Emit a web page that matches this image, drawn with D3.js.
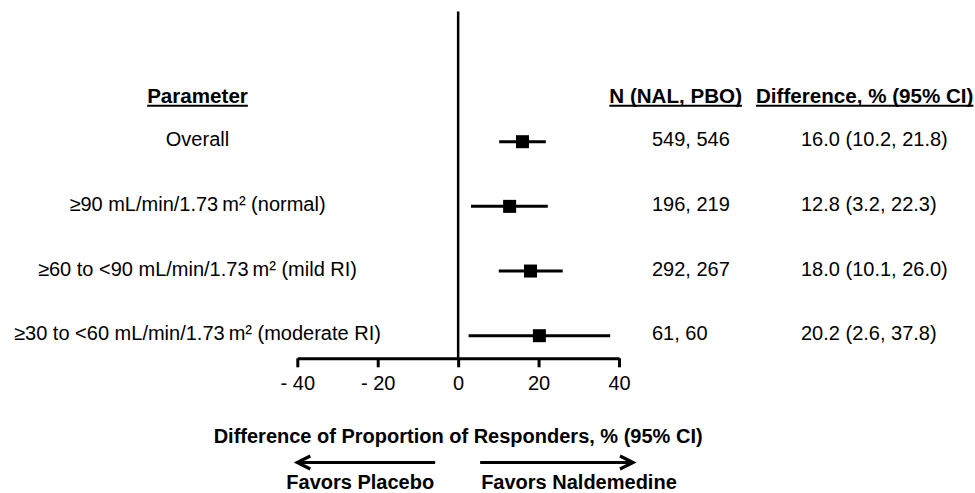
<!DOCTYPE html>
<html>
<head>
<meta charset="utf-8">
<script src="https://cdn.jsdelivr.net/npm/d3@7"></script>
<style>
  html, body { margin: 0; padding: 0; background: #fff; }
  svg { display: block; font-family: "Liberation Sans", Arial, Helvetica, sans-serif; }
</style>
</head>
<body>
<svg id="chart" width="975" height="493"></svg>
<script>
const categories = [
  "Overall",
  "\u226590 mL/min/1.73\u2009m\u00b2 (normal)",
  "\u226560 to <90 mL/min/1.73\u2009m\u00b2 (mild RI)",
  "\u226530 to <60 mL/min/1.73\u2009m\u00b2 (moderate RI)"
];
const estimates = [16.0, 12.8, 18.0, 20.2];
const lowerCI = [10.2, 3.2, 10.1, 2.6];
const upperCI = [21.8, 22.3, 26.0, 37.8];
const nLabels = ["549, 546", "196, 219", "292, 267", "61, 60"];
const tickValues = [-40, -20, 0, 20, 40];
const tickLabels = ["- 40", "- 20", "0", "20", "40"];
const headers = ["Parameter", "N (NAL, PBO)", "Difference, % (95% CI)"];
const axisTitle = "Difference of Proportion of Responders, % (95% CI)";
const favorLabels = ["Favors Placebo", "Favors Naldemedine"];

const svg = d3.select("#chart");
const rows = categories.map((c, i) => ({
  cat: c, est: estimates[i], lo: lowerCI[i], hi: upperCI[i], n: nLabels[i],
  diff: `${estimates[i].toFixed(1)} (${lowerCI[i].toFixed(1)}, ${upperCI[i].toFixed(1)})`
}));

const x = d3.scaleLinear().domain([-40, 40]).range([297.3, 619]);
const y = d3.scalePoint().domain(categories).range([141.7, 335.7]);
const axisY = 358.3;

// zero reference line
svg.append("line")
  .attr("x1", x(0)).attr("x2", x(0))
  .attr("y1", 11.5).attr("y2", axisY)
  .attr("stroke", "#000").attr("stroke-width", 2.5);

// axis
const axis = d3.axisBottom(x)
  .tickValues(tickValues)
  .tickFormat((d, i) => tickLabels[i])
  .tickSize(9).tickSizeOuter(0).tickPadding(9);
const gAxis = svg.append("g").attr("transform", `translate(0,${axisY})`).call(axis);
gAxis.select(".domain").attr("stroke", "#000").attr("stroke-width", 3);
gAxis.selectAll(".tick line").attr("stroke", "#000").attr("stroke-width", 3);
gAxis.selectAll(".tick text")
  .attr("fill", "#000")
  .style("font-size", "20px")
  .style("font-family", '"Liberation Sans", Arial, sans-serif');
gAxis.attr("font-family", null).attr("font-size", null);

// CI lines and squares
const sq = 13;
svg.append("g").selectAll("line").data(rows).join("line")
  .attr("x1", d => x(d.lo)).attr("x2", d => x(d.hi))
  .attr("y1", d => y(d.cat)).attr("y2", d => y(d.cat))
  .attr("stroke", "#000").attr("stroke-width", 3);
svg.append("g").selectAll("rect").data(rows).join("rect")
  .attr("x", d => x(d.est) - sq / 2).attr("y", d => y(d.cat) - sq / 2)
  .attr("width", sq).attr("height", sq).attr("fill", "#000");

// headers
const headerBase = 102.7;
const headerSpecs = [
  { text: headers[0], x: 197.5, anchor: "middle" },
  { text: headers[1], x: 742, anchor: "end" },
  { text: headers[2], x: 756, anchor: "start" }
];
headerSpecs.forEach(h => {
  const t = svg.append("text")
    .attr("x", h.x).attr("y", headerBase)
    .attr("text-anchor", h.anchor)
    .style("font-size", "20.6px").style("font-weight", "bold")
    .attr("fill", "#000").text(h.text);
  const bb = t.node().getBBox();
  svg.append("line")
    .attr("x1", bb.x).attr("x2", bb.x + bb.width)
    .attr("y1", headerBase + 3).attr("y2", headerBase + 3)
    .attr("stroke", "#000").attr("stroke-width", 2);
});

// row texts
const textDy = 4.5;
svg.append("g").selectAll("text").data(rows).join("text")
  .attr("x", 197.5).attr("y", d => y(d.cat) + textDy)
  .attr("text-anchor", "middle").style("font-size", "20px").attr("fill", "#000")
  .text(d => d.cat);
svg.append("g").selectAll("text").data(rows).join("text")
  .attr("x", 652).attr("y", d => y(d.cat) + textDy)
  .attr("text-anchor", "start").style("font-size", "20px").attr("fill", "#000")
  .text(d => d.n);
svg.append("g").selectAll("text").data(rows).join("text")
  .attr("x", 801).attr("y", d => y(d.cat) + textDy)
  .attr("text-anchor", "start").style("font-size", "20px").attr("fill", "#000")
  .text(d => d.diff);

// axis title
svg.append("text")
  .attr("x", x(0)).attr("y", 443)
  .attr("text-anchor", "middle")
  .style("font-size", "20px").style("font-weight", "bold").attr("fill", "#000")
  .text(axisTitle);

// arrows
const arrowY = 462.5;
function arrow(x1, x2) {
  const dir = x2 > x1 ? 1 : -1;
  svg.append("line").attr("x1", x1).attr("x2", x2 - dir * 1.5)
    .attr("y1", arrowY).attr("y2", arrowY)
    .attr("stroke", "#000").attr("stroke-width", 3.2);
  svg.append("path")
    .attr("d", `M${x2 - dir * 13},${arrowY - 6.5} L${x2},${arrowY} L${x2 - dir * 13},${arrowY + 6.5}`)
    .attr("fill", "none").attr("stroke", "#000").attr("stroke-width", 3.2)
    .attr("stroke-linejoin", "miter");
}
arrow(x(0) - 23, x(-40));
arrow(x(0) + 22, x(40) + 14);

svg.append("text")
  .attr("x", x(0) - 24).attr("y", 489)
  .attr("text-anchor", "end")
  .style("font-size", "20px").style("font-weight", "bold").attr("fill", "#000")
  .text(favorLabels[0]);
svg.append("text")
  .attr("x", x(0) + 23).attr("y", 489)
  .attr("text-anchor", "start")
  .style("font-size", "20px").style("font-weight", "bold").attr("fill", "#000")
  .text(favorLabels[1]);
</script>
</body>
</html>
